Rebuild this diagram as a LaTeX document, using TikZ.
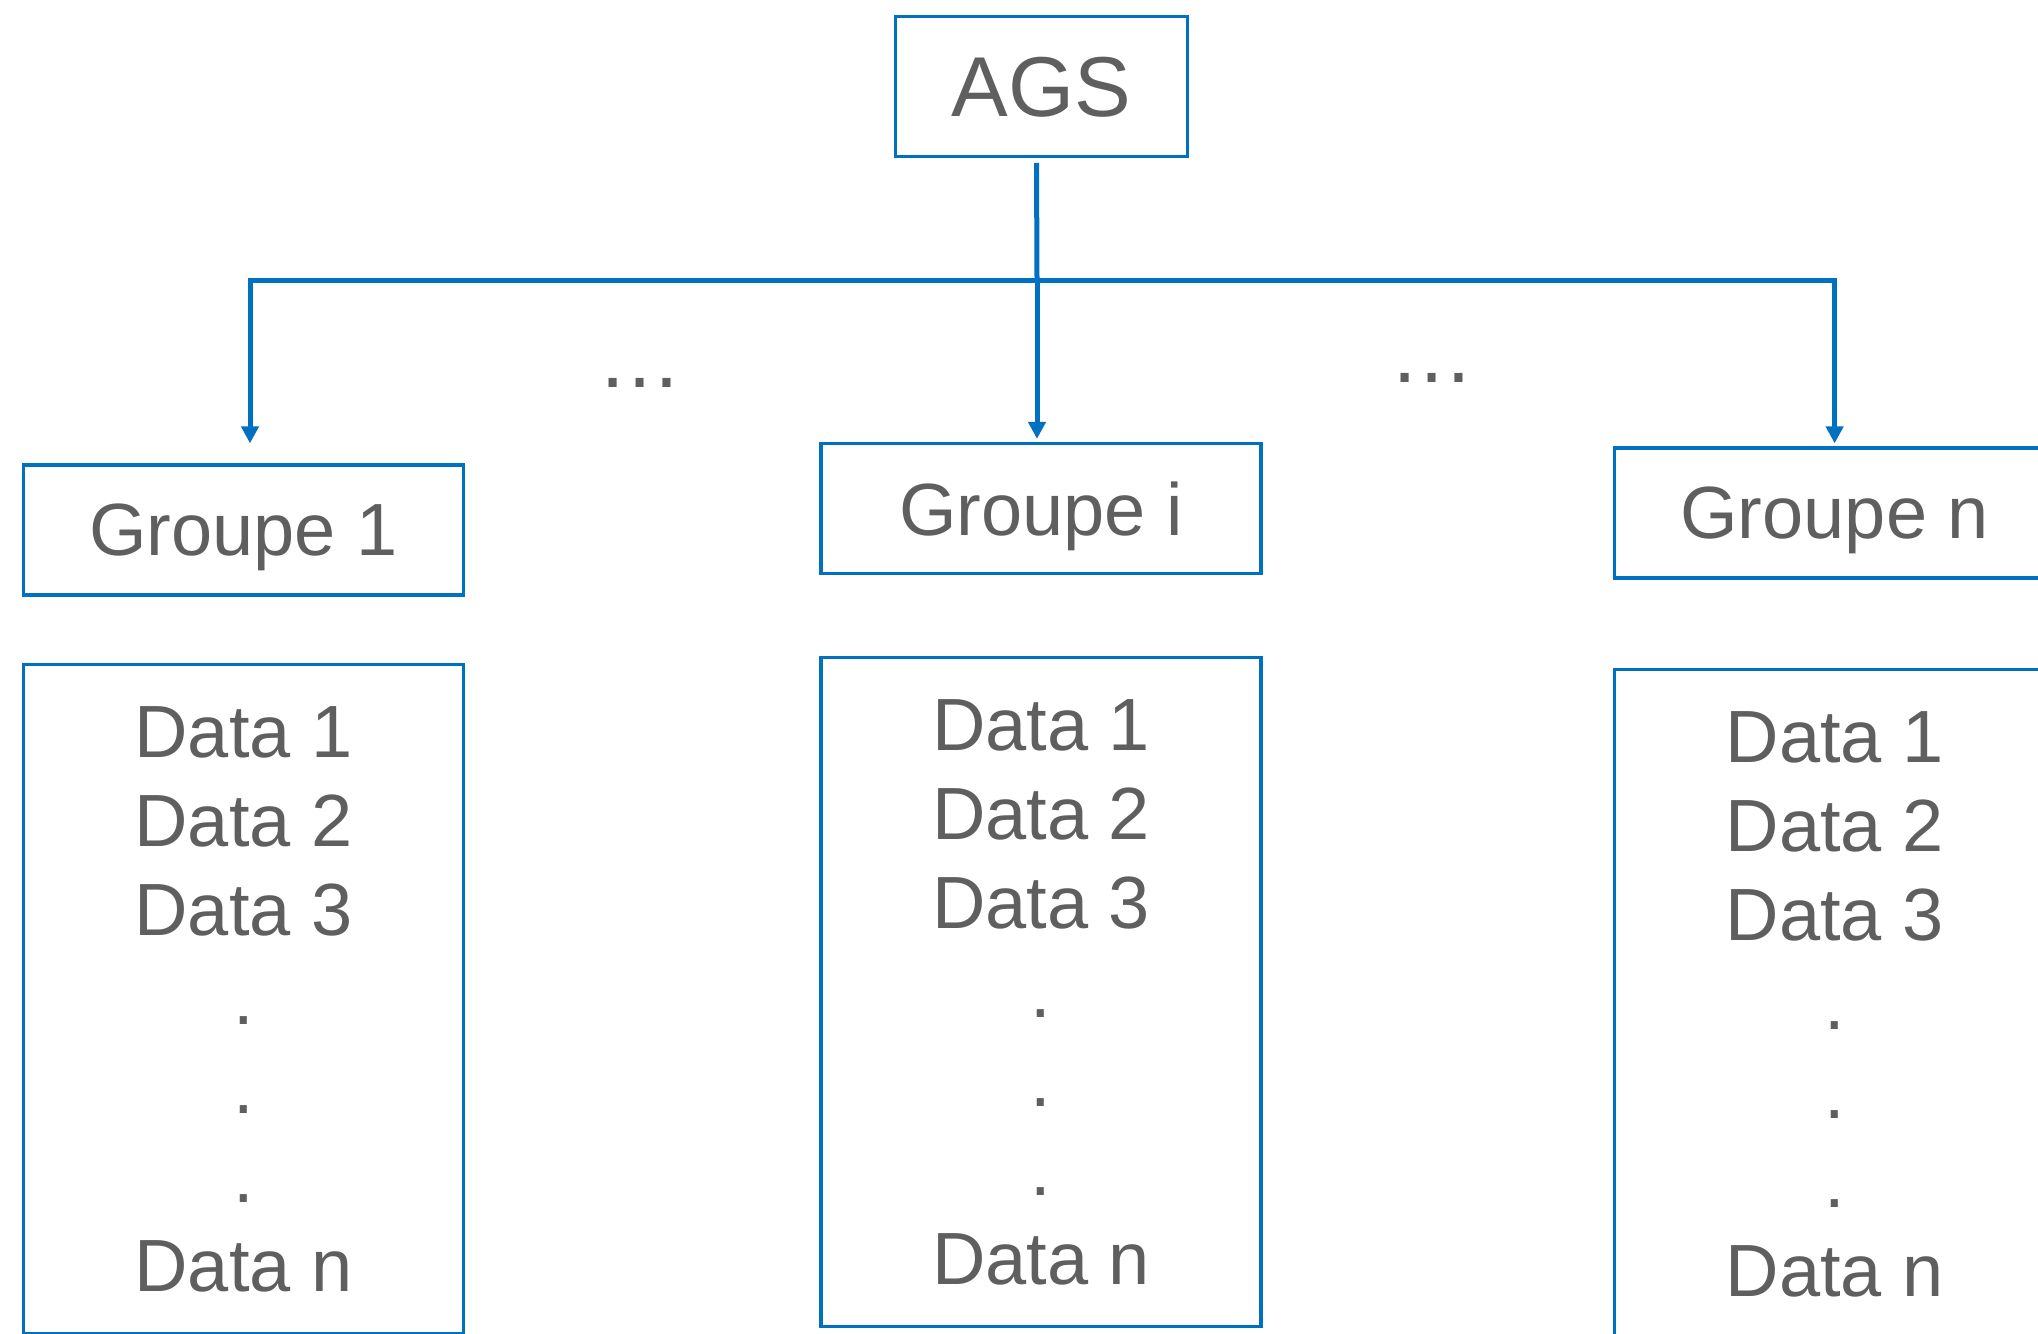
\documentclass[tikz,border=0pt]{standalone}
\usepackage{fontspec}
\setmainfont{Liberation Sans}
\usetikzlibrary{arrows.meta,calc}

\definecolor{boxblue}{HTML}{0070C0}
\definecolor{textgray}{HTML}{5F5F5F}

\tikzset{
  box/.style={draw=boxblue, line width=1.65pt, rectangle, inner sep=0pt,
              text=textgray, align=center},
  rootbox/.style={box, minimum width=145.8pt, minimum height=69.8pt,
                  font=\fontsize{42.5}{50}\selectfont, text depth=0pt},
  groupbox/.style={box, minimum width=220pt, minimum height=65pt,
                   font=\fontsize{37}{44.5}\selectfont, text depth=0pt},
  databox/.style={box, minimum width=220pt, minimum height=334.5pt,
                  font=\fontsize{37}{44.5}\selectfont},
  link/.style={draw=boxblue, line width=2.5pt},
  arrowlink/.style={link, -{Triangle[width=8.5pt,length=8.5pt]}},
  gap/.style={text=textgray, font=\fontsize{42.5}{50}\selectfont, anchor=base,
              inner sep=0pt}
}

\begin{document}
\begin{tikzpicture}[x=0.5pt, y=-0.5pt]
  \useasboundingbox (0,0) rectangle (2038,1333);
  \clip (0,0) rectangle (2038,1333);

  % root
  \node[rootbox] (ags) at (1041.5,86.5) {AGS};

  % groups
  \node[groupbox] (g1) at (243.5,530) {Groupe 1};
  \node[groupbox] (gi) at (1041,508.5) {Groupe i};
  \node[groupbox] (gn) at (1834.6,513) {Groupe n};

  % data lists
  \node[databox] (d1) at (243.5,999) {Data 1\\Data 2\\Data 3\\.\\.\\.\\Data n};
  \node[databox] (di) at (1041,992) {Data 1\\Data 2\\Data 3\\.\\.\\.\\Data n};
  \node[databox] (dn) at (1834.6,1004) {Data 1\\Data 2\\Data 3\\.\\.\\.\\Data n};

  % elided groups
  \node[gap] (gapl) at (640,387) {…};
  \node[gap] (gapr) at (1432,382) {…};

  % connectors
  \coordinate (bus) at (1037,280);
  \draw[link] ($(ags.south)+(-5,5)$) -- (bus);
  \draw[arrowlink, shorten >=10pt] (bus) -| ($(g1.north)+(6.5,0)$);
  \draw[arrowlink, shorten >=1.5pt] (bus) -- (bus |- gi.north);
  \draw[arrowlink, shorten >=1.5pt] (bus) -| (gn.north);
\end{tikzpicture}
\end{document}
